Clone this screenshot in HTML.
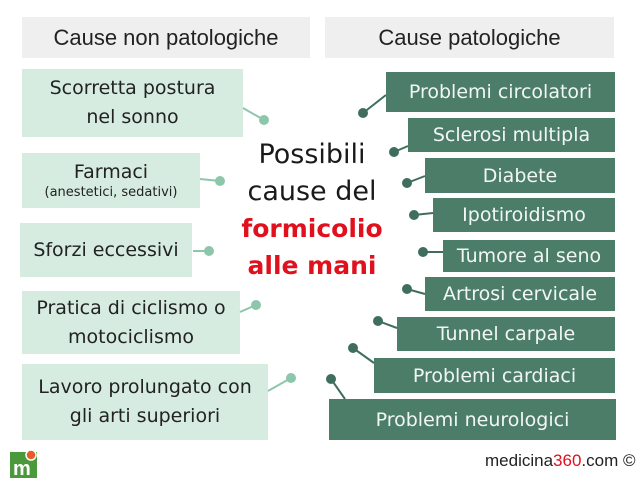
<!DOCTYPE html>
<html><head><meta charset="utf-8"><style>
body{margin:0;width:640px;height:480px;background:#fff;position:relative;overflow:hidden;font-family:"DejaVu Sans",sans-serif;}
.b{position:absolute;display:flex;flex-direction:column;align-items:center;justify-content:center;text-align:center;box-sizing:border-box;white-space:nowrap;}
.h{background:#efefef;color:#222;font-size:19px;font-family:"Liberation Sans",sans-serif;font-size:22px;}
.l{background:#d7ece1;color:#222;font-size:19px;line-height:29px;}
.r{background:#4c7d69;color:#f2f7f4;font-size:19px;}
.c{position:absolute;left:212px;width:200px;text-align:center;font-size:29px;line-height:37px;font-family:"DejaVu Sans",sans-serif;}
</style></head><body>
<div class="b h" style="left:22px;top:17px;width:288px;height:41px">Cause non patologiche</div>
<div class="b h" style="left:325px;top:17px;width:289px;height:41px">Cause patologiche</div>

<div class="b l" style="left:22px;top:69px;width:221px;height:68px">Scorretta postura<br>nel sonno</div>
<div class="b l" style="left:22px;top:153px;width:178px;height:55px;line-height:24px">Farmaci<span style="font-size:13px;line-height:18px">(anestetici, sedativi)</span></div>
<div class="b l" style="left:20px;top:223px;width:172px;height:54px">Sforzi eccessivi</div>
<div class="b l" style="left:22px;top:291px;width:218px;height:63px">Pratica di ciclismo o<br>motociclismo</div>
<div class="b l" style="left:22px;top:364px;width:246px;height:76px">Lavoro prolungato con<br>gli arti superiori</div>

<div class="b r" style="left:386px;top:72px;width:229px;height:40px">Problemi circolatori</div>
<div class="b r" style="left:408px;top:118px;width:207px;height:34px">Sclerosi multipla</div>
<div class="b r" style="left:425px;top:158px;width:190px;height:35px">Diabete</div>
<div class="b r" style="left:433px;top:198px;width:182px;height:34px">Ipotiroidismo</div>
<div class="b r" style="left:443px;top:240px;width:172px;height:32px">Tumore al seno</div>
<div class="b r" style="left:425px;top:277px;width:190px;height:34px">Artrosi cervicale</div>
<div class="b r" style="left:397px;top:317px;width:218px;height:34px">Tunnel carpale</div>
<div class="b r" style="left:374px;top:358px;width:241px;height:35px">Problemi cardiaci</div>
<div class="b r" style="left:329px;top:399px;width:287px;height:41px">Problemi neurologici</div>

<div class="c" style="top:136px;color:#1a1a1a;font-size:27px">Possibili</div>
<div class="c" style="top:173px;color:#1a1a1a;font-size:27px">cause del</div>
<div class="c" style="top:210px;color:#e0101c;font-weight:bold;font-size:25px">formicolio</div>
<div class="c" style="top:247px;color:#e0101c;font-weight:bold;font-size:25px">alle mani</div>

<svg width="640" height="480" style="position:absolute;left:0;top:0">
<g stroke="#8cc7ab" stroke-width="2" fill="#8cc7ab">
<line x1="243" y1="108" x2="264" y2="120"/><circle cx="264" cy="120" r="4"/>
<line x1="200" y1="179" x2="220" y2="181"/><circle cx="220" cy="181" r="4"/>
<line x1="193" y1="251" x2="209" y2="251"/><circle cx="209" cy="251" r="4"/>
<line x1="240" y1="312" x2="256" y2="305"/><circle cx="256" cy="305" r="4"/>
<line x1="268" y1="391" x2="291" y2="378"/><circle cx="291" cy="378" r="4"/>
</g>
<g stroke="#3f6e5c" stroke-width="2" fill="#3f6e5c">
<line x1="386" y1="95" x2="363" y2="113"/><circle cx="363" cy="113" r="4"/>
<line x1="408" y1="146" x2="394" y2="152"/><circle cx="394" cy="152" r="4"/>
<line x1="425" y1="176" x2="407" y2="183"/><circle cx="407" cy="183" r="4"/>
<line x1="433" y1="213" x2="414" y2="215"/><circle cx="414" cy="215" r="4"/>
<line x1="443" y1="252" x2="423" y2="252"/><circle cx="423" cy="252" r="4"/>
<line x1="425" y1="294" x2="407" y2="289"/><circle cx="407" cy="289" r="4"/>
<line x1="397" y1="328" x2="378" y2="321"/><circle cx="378" cy="321" r="4"/>
<line x1="374" y1="363" x2="353" y2="348"/><circle cx="353" cy="348" r="4"/>
<line x1="345" y1="399" x2="331" y2="379"/><circle cx="331" cy="379" r="4"/>
</g>
<rect x="10" y="452" width="27" height="26" fill="#4a9a3c"/>
<text x="13" y="475" font-family="Liberation Sans" font-weight="bold" font-size="20" fill="#fff">m</text>
<circle cx="31" cy="455" r="5" fill="#e85a2a" stroke="#fff" stroke-width="1.5"/>
</svg>
<div style="position:absolute;left:485px;top:451px;font-size:17px;color:#222;font-family:'Liberation Sans',sans-serif">medicina<span style="color:#e0101c">360</span>.com ©</div>
</body></html>
